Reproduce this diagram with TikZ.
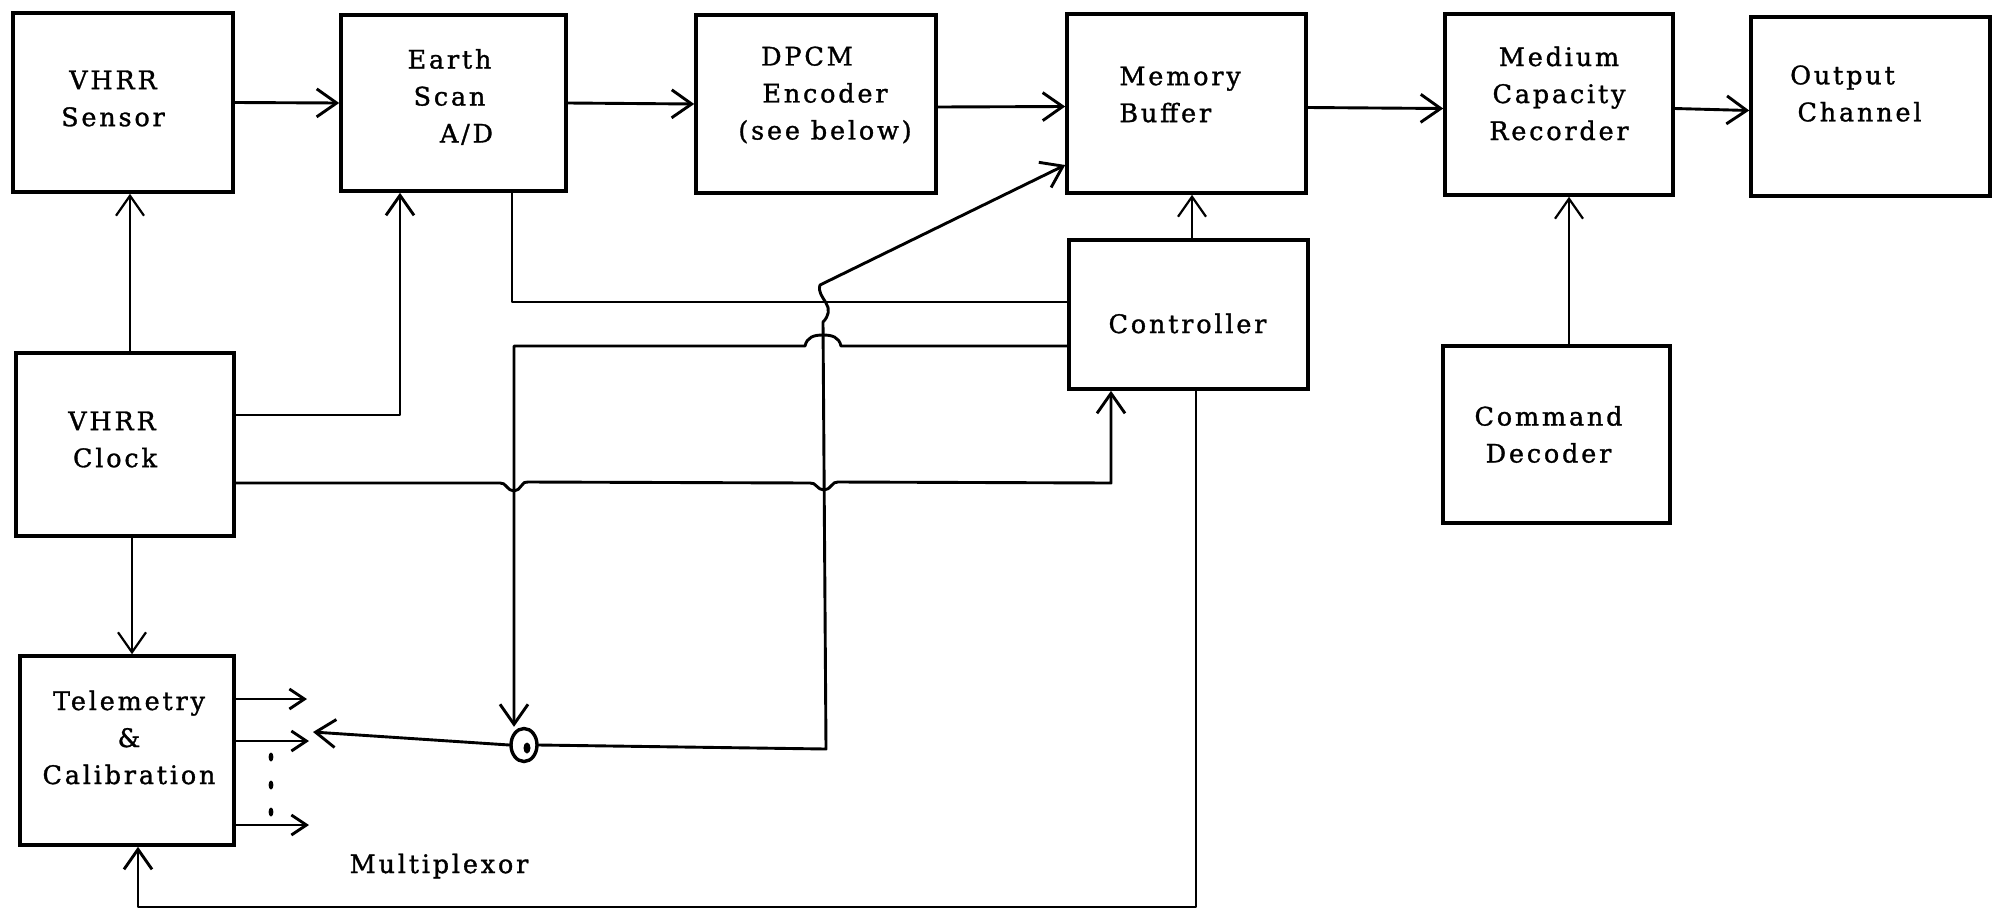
\documentclass[tikz,border=0pt]{standalone}
\usepackage{fontspec}
\newfontfamily\lab[LetterSpace=11,FakeBold=1.2]{DejaVu Serif}
\usetikzlibrary{arrows.meta,shapes.geometric}
\begin{document}
\begin{tikzpicture}[x=1pt,y=-1pt,
  box/.style={draw, line width=3.6pt, inner sep=0pt},
  lbl/.style={font=\lab\fontsize{25.5}{37}\selectfont, align=center, inner sep=0pt},
  conn/.style={line width=2.9pt, line cap=round, line join=round},
  thin/.style={line width=2.2pt},
  arr/.style={conn, -{Straight Barb[length=20pt,width=28pt]}},
  sarr/.style={conn, -{Straight Barb[length=15pt,width=20pt]}},
  ]
\fill[white] (0,0) rectangle (1996,919);
\useasboundingbox (0,0) rectangle (1996,919);

% blocks
\node[box, minimum width=220pt, minimum height=179pt,
  label={[lbl, xshift=-10pt, yshift=4pt]center:{VHRR\\Sensor}}] (sensor) at (123,102.5) {};
\node[box, minimum width=225pt, minimum height=176pt,
  label={[lbl, xshift=-4pt, yshift=6pt]center:{Earth\\Scan\\\hspace*{34pt}A/D}}] (earth) at (453.5,103) {};
\node[box, minimum width=240pt, minimum height=178pt,
  label={[lbl, xshift=9pt, yshift=9pt]center:{DPCM\hspace*{36pt}\\Encoder\\(see below)}}] (dpcm) at (816,104) {};
\node[box, minimum width=239pt, minimum height=179pt,
  label={[lbl, align=left, anchor=west, xshift=54pt, yshift=9pt]west:{Memory\\Buffer}}] (buffer) at (1186.5,103.5) {};
\node[box, minimum width=228pt, minimum height=181pt,
  label={[lbl, yshift=11pt]center:{Medium\\Capacity\\Recorder}}] (recorder) at (1559,104.5) {};
\node[box, minimum width=239pt, minimum height=179pt,
  label={[lbl, xshift=-11pt, yshift=13pt]center:{Output\hspace*{34pt}\\Channel}}] (output) at (1870.5,106.5) {};
\node[box, minimum width=239pt, minimum height=149pt,
  label={[lbl, xshift=-1pt, yshift=-9pt]center:{Controller}}] (controller) at (1188.5,314.5) {};
\node[box, minimum width=227pt, minimum height=177pt,
  label={[lbl, xshift=-8pt]center:{Command\\Decoder}}] (decoder) at (1556.5,434.5) {};
\node[box, minimum width=218pt, minimum height=183pt,
  label={[lbl, xshift=-10pt, yshift=5pt]center:{VHRR\hspace*{6pt}\\Clock}}] (clock) at (125,444.5) {};
\node[box, minimum width=214pt, minimum height=189pt,
  label={[lbl, xshift=2pt, yshift=13pt]center:{Telemetry\\\&\\Calibration}}] (telemetry) at (127,750.5) {};
\node[lbl] (muxlabel) at (439,866) {Multiplexor};

% multiplexor switch
\node[ellipse, draw, line width=3.4pt, minimum width=26pt, minimum height=33pt, inner sep=0pt] (sw) at (524,745) {};
\fill (527,748) ellipse (3.5pt and 5.5pt);

% data path
\draw[arr] (sensor.east) -- (earth.west);
\draw[arr] (earth.east) -- (dpcm.west);
\draw[arr] ([yshift=-3pt]dpcm.east) -- ([yshift=-3pt]buffer.west);
\draw[arr] ([yshift=-4pt]buffer.east) -- ([yshift=-4pt]recorder.west);
\draw[arr] ([yshift=-4pt]recorder.east) -- ([yshift=-4pt]output.west);

% clock distribution
\draw[arr, thin] (clock.north -| 130,0) -- (sensor.south -| 130,0);
\draw[arr] (clock.east |- 0,415) -| (earth.south -| 400,0);
\draw[arr] (clock.east |- 0,483) -- (500,483)
  .. controls (506,482) and (507,491) .. (514,491)
  .. controls (521,491) and (522,480) .. (528,482) -- (810,483)
  .. controls (816,482) and (817,490) .. (824,490)
  .. controls (831,490) and (832,481) .. (838,482) -- (1111,483)
  -- (controller.south -| 1111,0);
\draw[arr, thin] (clock.south -| 132,0) -- (telemetry.north -| 132,0);

% controller links
\draw[conn] (earth.south -| 512,0) |- (controller.west |- 0,302);
\draw[arr] (controller.west |- 0,346) -- (841,346)
  .. controls (839,337) and (832,335) .. (823,335)
  .. controls (814,335) and (807,337) .. (805,346)
  -- (514,346) -- (sw.north -| 514,0);
\draw[arr, thin] (controller.north -| 1192,0) -- (buffer.south -| 1192,0);
\draw[arr] (controller.south -| 1196,0) |- (138,907) -- (telemetry.south -| 138,0);
\draw[arr, thin] (decoder.north -| 1569,0) -- (recorder.south -| 1569,0);

% multiplexor output to the buffer and back to the telemetry lines
\draw[arr] (sw.east) -- (826,749) -- (823,322)
  .. controls (829,316) and (830,309) .. (826,303)
  .. controls (822,296) and (818,292) .. (820,285)
  -- (buffer.west |- 0,165);
\draw[arr] (sw.west) -- (313,732);

% telemetry outputs
\draw[sarr] (telemetry.east |- 0,699) -- (307,699);
\draw[sarr] (telemetry.east |- 0,741) -- (309,741);
\draw[sarr] (telemetry.east |- 0,825) -- (309,825);
\fill (271,757) ellipse (2.4pt and 4.5pt);
\fill (271,785) ellipse (2.4pt and 4.5pt);
\fill (271,812) ellipse (2.4pt and 4.5pt);
\end{tikzpicture}
\end{document}
